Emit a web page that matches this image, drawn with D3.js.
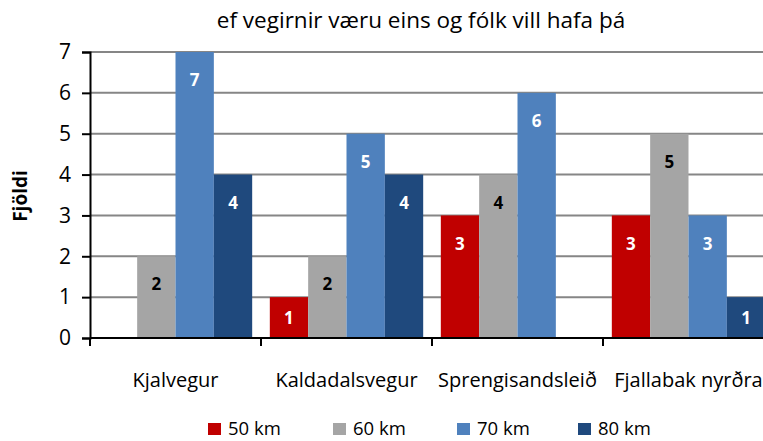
<!DOCTYPE html>
<html>
<head>
<meta charset="utf-8">
<script src="https://cdn.jsdelivr.net/npm/d3@7"></script>
<style>
  body { margin: 0; background: #fff; }
  svg { display: block; font-family: "Open Sans", "Liberation Sans", sans-serif; }
</style>
</head>
<body>
<script>
// data
var categories = ["Kjalvegur", "Kaldadalsvegur", "Sprengisandsleið", "Fjallabak nyrðra"];
var seriesNames = ["50 km", "60 km", "70 km", "80 km"];
var v50 = [0, 1, 3, 3];
var v60 = [2, 2, 4, 5];
var v70 = [7, 5, 6, 3];
var v80 = [4, 4, 0, 1];
var yTicks = [0, 1, 2, 3, 4, 5, 6, 7];

var colors = ["#C00000", "#A5A5A5", "#4F81BD", "#1F497D"];
var labelColors = ["#fff", "#000", "#fff", "#fff"];
var seriesValues = [v50, v60, v70, v80];

var W = 763, H = 441;
var margin = {top: 52, left: 90, bottom: 103};
var plotW = 684; // plot runs past the right edge, as in the original
var y0 = H - margin.bottom;

var svg = d3.select("body").append("svg")
    .attr("width", W)
    .attr("height", H);

var x = d3.scaleBand()
    .domain(categories)
    .range([margin.left, margin.left + plotW])
    .paddingInner(0)
    .paddingOuter(0);

var xs = d3.scaleBand()
    .domain(seriesNames)
    .range([0, x.bandwidth()])
    .paddingOuter(0.23)
    .paddingInner(0);

var y = d3.scaleLinear()
    .domain([0, 7])
    .range([y0, margin.top]);

// gridlines
svg.append("g")
  .selectAll("line")
  .data(yTicks.slice(1))
  .enter().append("line")
    .attr("x1", margin.left)
    .attr("x2", W)
    .attr("y1", function(d){ return y(d); })
    .attr("y2", function(d){ return y(d); })
    .attr("stroke", "#868686")
    .attr("stroke-width", 2);

// bars
var rows = [];
seriesValues.forEach(function(vals, s){
  vals.forEach(function(v, i){
    rows.push({cat: categories[i], ser: seriesNames[s], s: s, v: v});
  });
});

svg.append("g")
  .selectAll("rect")
  .data(rows.filter(function(d){ return d.v > 0; }))
  .enter().append("rect")
    .attr("x", function(d){ return x(d.cat) + xs(d.ser); })
    .attr("width", xs.bandwidth())
    .attr("y", function(d){ return y(d.v); })
    .attr("height", function(d){ return y0 - y(d.v); })
    .attr("fill", function(d){ return colors[d.s]; });

// value labels, inside end
svg.append("g")
  .selectAll("text")
  .data(rows.filter(function(d){ return d.v > 0; }))
  .enter().append("text")
    .attr("x", function(d){ return x(d.cat) + xs(d.ser) + xs.bandwidth() / 2; })
    .attr("y", function(d){
      var top = y(d.v), h = y0 - top;
      return top + Math.min(28, h / 2);
    })
    .attr("dy", "0.36em")
    .attr("text-anchor", "middle")
    .attr("font-size", 17)
    .attr("font-weight", "bold")
    .attr("fill", function(d){ return labelColors[d.s]; })
    .text(function(d){ return d.v; });

// y axis
var yAxis = svg.append("g")
    .attr("transform", "translate(" + margin.left + ",0)")
    .call(d3.axisLeft(y).tickValues(yTicks).tickSize(8).tickPadding(11).tickFormat(d3.format("d")));
yAxis.select(".domain").attr("stroke", "#000").attr("stroke-width", 2);
yAxis.selectAll(".tick line").attr("stroke", "#000").attr("stroke-width", 2);
yAxis.selectAll("text").attr("font-size", 21).attr("fill", "#000")
    .attr("font-family", "Open Sans, sans-serif");

// x axis line and category ticks
svg.append("line")
    .attr("x1", margin.left).attr("x2", W)
    .attr("y1", y0).attr("y2", y0)
    .attr("stroke", "#000").attr("stroke-width", 2);

svg.append("g")
  .selectAll("line")
  .data(categories)
  .enter().append("line")
    .attr("x1", function(d){ return x(d); })
    .attr("x2", function(d){ return x(d); })
    .attr("y1", y0).attr("y2", y0 + 8)
    .attr("stroke", "#000").attr("stroke-width", 2);

svg.append("g")
  .selectAll("text")
  .data(categories)
  .enter().append("text")
    .attr("x", function(d){ return x(d) + x.bandwidth() / 2; })
    .attr("y", 387)
    .attr("text-anchor", "middle")
    .attr("font-size", 20)
    .attr("fill", "#000")
    .text(function(d){ return d; });

// title
svg.append("text")
    .attr("x", 421)
    .attr("y", 28)
    .attr("text-anchor", "middle")
    .attr("font-size", 22.5)
    .attr("fill", "#000")
    .text("ef vegirnir væru eins og fólk vill hafa þá");

// y axis title
svg.append("text")
    .attr("transform", "translate(27,196) rotate(-90)")
    .attr("text-anchor", "middle")
    .attr("font-size", 19)
    .attr("font-weight", "bold")
    .attr("fill", "#000")
    .text("Fjöldi");

// legend
var legendX = [208, 333, 457, 578];
var legend = svg.append("g")
  .selectAll("g")
  .data(seriesNames)
  .enter().append("g")
    .attr("transform", function(d, i){ return "translate(" + legendX[i] + ",423)"; });
legend.append("rect")
    .attr("width", 13).attr("height", 12)
    .attr("fill", function(d, i){ return colors[i]; });
legend.append("text")
    .attr("x", 20).attr("y", 6)
    .attr("dy", "0.34em")
    .attr("font-size", 18.5)
    .attr("fill", "#000")
    .text(function(d){ return d; });
</script>
</body>
</html>
